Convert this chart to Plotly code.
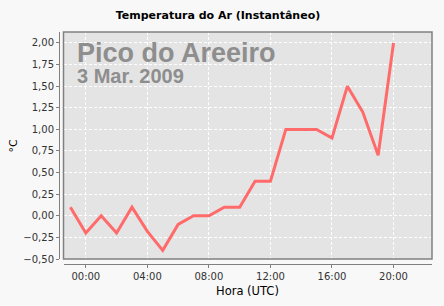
import plotly.graph_objects as go

# Data (hours UTC relative to 3 Mar 2009, -1 = 23:00 previous day)
hours = list(range(-1, 21))
temps = [0.1, -0.2, 0.0, -0.2, 0.1, -0.18, -0.4, -0.1, 0.0, 0.0, 0.1, 0.1,
         0.4, 0.4, 1.0, 1.0, 1.0, 0.9, 1.5, 1.2, 0.7, 2.0]

x_tickvals = [0, 4, 8, 12, 16, 20]
x_ticktext = ["00:00", "04:00", "08:00", "12:00", "16:00", "20:00"]
y_tickvals = [-0.5, -0.25, 0.0, 0.25, 0.5, 0.75, 1.0, 1.25, 1.5, 1.75, 2.0]

W, H = 444, 306
ml, mr, mt, mb = 59, 12, 32, 42
pw = W - ml - mr
ph = H - mt - mb
gap_x = 4.5
gap_y = 5

fig = go.Figure()
fig.add_trace(go.Scatter(
    x=hours, y=temps, mode="lines",
    line=dict(color="#ff6a6a", width=3),
    hoverinfo="skip", showlegend=False,
))

tick_font = dict(family="DejaVu Sans", size=10, color="#333333")

fig.update_layout(
    width=W, height=H,
    margin=dict(l=ml, r=mr, t=mt, b=mb, pad=0),
    paper_bgcolor="#f8f8f8",
    plot_bgcolor="#e4e4e4",
    separators=",.",
    title=dict(
        text="<b>Temperatura do Ar (Instantâneo)</b>",
        font=dict(family="DejaVu Sans", size=11, color="#000000"),
        x=218 / W, xanchor="center", xref="container",
        y=1 - 15 / H, yanchor="middle", yref="container",
    ),
    xaxis=dict(
        domain=[gap_x / pw, 1],
        range=[-1.45, 22.5],
        anchor="free", position=0, automargin=False,
        tickmode="array", tickvals=x_tickvals, ticktext=x_ticktext,
        ticks="outside", ticklen=3, tickcolor="#808080", tickwidth=1,
        showline=True, linecolor="#808080", linewidth=1,
        showgrid=True, gridcolor="#ffffff", gridwidth=1, griddash="3px,2px",
        zeroline=False,
        tickfont=tick_font,
    ),
    yaxis=dict(
        domain=[gap_y / ph, 1],
        range=[-0.5, 2.127],
        anchor="free", position=0, automargin=False,
        tickmode="array", tickvals=y_tickvals, tickformat=".2f",
        ticks="outside", ticklen=3, tickcolor="#808080", tickwidth=1,
        showline=True, linecolor="#808080", linewidth=1,
        showgrid=True, gridcolor="#ffffff", gridwidth=1, griddash="3px,2px",
        zeroline=False,
        tickfont=tick_font,
    ),
)

# axis titles
fig.add_annotation(
    text="Hora (UTC)", xref="x domain", yref="paper",
    x=0.5, y=(264 - 291) / ph, xanchor="center", yanchor="middle",
    showarrow=False, font=dict(family="DejaVu Sans", size=11.5, color="#000000"),
)
fig.add_annotation(
    text="°C", xref="paper", yref="y domain",
    x=(13 - ml) / pw, y=0.5, xanchor="center", yanchor="middle", textangle=-90,
    showarrow=False, font=dict(family="DejaVu Sans", size=11, color="#000000"),
)

# plot border
fig.add_shape(type="rect", xref="x domain", yref="y domain",
              x0=0, x1=1, y0=0, y1=1,
              line=dict(color="#808080", width=1.5), fillcolor="rgba(0,0,0,0)",
              layer="above")

x_left = (75 - (ml + gap_x)) / (pw - gap_x)
fig.add_annotation(
    text=("<span style='font-size:27px'><b>Pico do Areeiro</b></span><br>"
          "<span style='font-size:20px'><b>3 Mar. 2009</b></span>"),
    xref="x domain", yref="y domain",
    x=x_left, y=(259 - 63) / (259 - 32),
    xanchor="left", yanchor="middle", align="left", showarrow=False,
    font=dict(family="Liberation Sans, Arial", size=16.5, color="#8e8e8e"),
)

fig.write_html("out.html")
